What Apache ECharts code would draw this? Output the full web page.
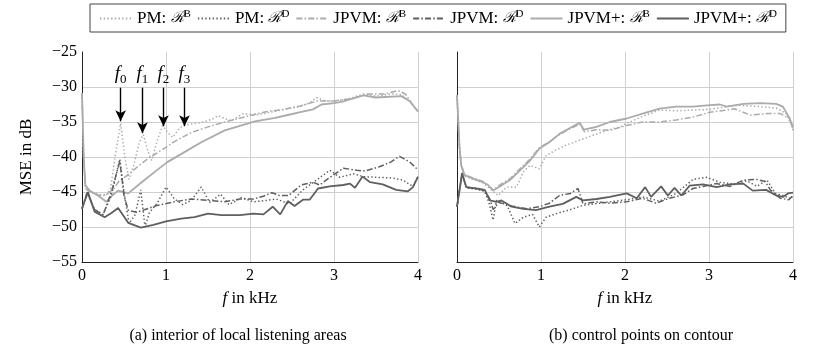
<!DOCTYPE html>
<html>
<head>
<meta charset="utf-8">
<script src="https://cdn.jsdelivr.net/npm/echarts@6.0.0/dist/echarts.min.js"></script>
<style>
  html, body { margin: 0; padding: 0; background: #fff; }
  #main { width: 817px; height: 361px; }
</style>
</head>
<body>
<div id="main"></div>
<script>
// frequency f in kHz, MSE in dB
// (a) interior of local listening areas
var leftPmB = [[0,-30.9],[0.02,-40],[0.04,-44.5],[0.1,-45],[0.2,-45.3],[0.28,-45.6],[0.34,-44.5],[0.4,-39.5],[0.46,-35.2],[0.51,-40],[0.56,-43.2],[0.62,-41],[0.68,-38],[0.73,-36.8],[0.78,-39],[0.83,-40.5],[0.9,-37.5],[0.96,-35.5],[1.02,-36.5],[1.08,-37.2],[1.14,-36.2],[1.2,-35.5],[1.3,-35.3],[1.45,-35],[1.55,-34.6],[1.62,-34.1],[1.7,-34.5],[1.78,-34.8],[1.92,-33.8],[2.06,-34],[2.2,-33.7],[2.4,-33.2],[2.6,-32.8],[2.72,-32.2],[2.79,-31.5],[2.9,-32],[3.0,-32],[3.2,-31.6],[3.35,-31.0],[3.5,-31.3],[3.7,-31],[3.8,-31.1],[3.9,-32],[4.0,-33.5]];
var leftPmD = [[0,-47.4],[0.06,-45.1],[0.15,-47.5],[0.25,-48.2],[0.35,-45.5],[0.45,-40.3],[0.5,-45],[0.56,-49.5],[0.63,-48.3],[0.7,-44.7],[0.75,-50],[0.8,-48],[0.9,-46.5],[1.0,-44.3],[1.1,-46],[1.2,-46.8],[1.3,-46.2],[1.42,-44.3],[1.52,-46.5],[1.65,-45.3],[1.75,-46.8],[1.9,-45.8],[2.04,-46.4],[2.2,-46.2],[2.31,-46.0],[2.47,-46.7],[2.63,-44.7],[2.79,-43.3],[2.95,-41.9],[3.07,-42.9],[3.23,-42.4],[3.35,-42.8],[3.5,-42.9],[3.7,-43.0],[3.82,-43.3],[3.94,-44.2],[4.0,-42.8]];
var leftJpvmB = [[0,-30.9],[0.02,-40],[0.04,-44.5],[0.1,-45],[0.2,-45.5],[0.3,-45.3],[0.38,-44.5],[0.45,-43.3],[0.52,-42.8],[0.61,-41.9],[0.7,-41],[0.79,-40.2],[0.95,-39.0],[1.1,-37.8],[1.3,-36.5],[1.5,-35.7],[1.7,-35.0],[1.9,-34.4],[2.06,-33.9],[2.2,-33.5],[2.4,-33.2],[2.6,-32.7],[2.8,-32.0],[3.0,-32.0],[3.2,-31.7],[3.4,-31.0],[3.6,-31.0],[3.76,-30.5],[3.85,-31],[3.95,-32.8],[4.0,-33.5]];
var leftJpvmD = [[0,-47.4],[0.06,-45.1],[0.15,-47.5],[0.25,-48.3],[0.35,-45],[0.45,-40.6],[0.5,-45.5],[0.55,-47.6],[0.65,-47.9],[0.75,-47.5],[0.9,-46.9],[1.1,-46.4],[1.3,-46.0],[1.5,-46.2],[1.7,-46.4],[1.88,-46.0],[2.04,-46.0],[2.16,-45.6],[2.26,-45.1],[2.35,-45.5],[2.46,-45.5],[2.61,-44.0],[2.75,-43.6],[2.83,-44.0],[2.93,-43.1],[3.11,-41.6],[3.27,-41.9],[3.37,-42.0],[3.54,-41.4],[3.68,-40.7],[3.78,-39.9],[3.9,-40.7],[3.98,-41.6],[4.0,-41.4]];
var leftPlusB = [[0,-30.9],[0.02,-40],[0.04,-44.0],[0.09,-44.8],[0.19,-45.5],[0.29,-46.4],[0.36,-45.5],[0.43,-44.8],[0.55,-45.2],[0.71,-43.6],[0.9,-41.8],[1.02,-40.7],[1.22,-39.3],[1.42,-37.9],[1.7,-36.2],[2.06,-34.9],[2.3,-34.4],[2.45,-34.0],[2.6,-33.6],[2.75,-33.2],[2.85,-32.5],[3.0,-32.3],[3.1,-32.1],[3.35,-31.2],[3.5,-31.5],[3.8,-31.3],[3.9,-32],[4.0,-33.5]];
var leftPlusD = [[0,-47.4],[0.07,-45.0],[0.15,-47.8],[0.27,-48.6],[0.35,-48.0],[0.43,-47.3],[0.55,-49.4],[0.7,-50.1],[0.85,-49.7],[1.0,-49.2],[1.18,-48.8],[1.34,-48.6],[1.5,-48.1],[1.66,-48.3],[1.88,-48.3],[2.04,-48.1],[2.16,-48.2],[2.27,-47.1],[2.36,-48.2],[2.45,-46.3],[2.53,-47.0],[2.63,-46.1],[2.71,-46.1],[2.81,-44.5],[2.95,-44.2],[3.11,-44.0],[3.19,-43.8],[3.25,-44.4],[3.34,-42.8],[3.43,-43.6],[3.58,-43.9],[3.74,-44.7],[3.88,-44.9],[3.94,-44.3],[4.0,-42.8]];

// (b) control points on contour
var rightPmB = [[0,-31.2],[0.03,-38.6],[0.05,-41.2],[0.09,-42.7],[0.19,-43.2],[0.31,-43.7],[0.43,-44.9],[0.49,-45.5],[0.59,-44.3],[0.71,-44.3],[0.79,-42.1],[0.87,-41.2],[0.94,-41.5],[0.98,-41.7],[1.06,-39.8],[1.18,-39.0],[1.3,-38.3],[1.46,-37.6],[1.62,-36.9],[1.78,-36.2],[1.94,-35.7],[2.02,-35.2],[2.21,-34.2],[2.41,-33.3],[2.61,-33.4],[2.81,-33.3],[3.01,-33.2],[3.33,-32.6],[3.61,-32.8],[3.8,-33],[3.92,-33.8],[4.0,-36]];
var rightPmD = [[0,-47.1],[0.06,-42.5],[0.11,-44.4],[0.23,-44.6],[0.33,-44.9],[0.38,-46.5],[0.43,-49.0],[0.47,-46.2],[0.53,-46.4],[0.6,-47.0],[0.69,-49.5],[0.79,-48.6],[0.9,-48.2],[0.98,-50.0],[1.06,-48.6],[1.18,-48.1],[1.38,-47.4],[1.5,-46.9],[1.7,-46.6],[1.82,-46.4],[2.02,-46.1],[2.21,-45.7],[2.41,-46.3],[2.61,-45.2],[2.81,-43.2],[2.97,-42.9],[3.13,-43.6],[3.29,-43.9],[3.45,-43.4],[3.57,-44.2],[3.69,-43.3],[3.79,-45.2],[3.88,-45.5],[3.96,-45.9],[4.0,-45.7]];
var rightJpvmB = [[0,-31.2],[0.03,-38.6],[0.05,-41.2],[0.09,-42.5],[0.19,-43.0],[0.31,-43.5],[0.43,-44.7],[0.51,-44.0],[0.63,-43.1],[0.75,-41.7],[0.87,-40.3],[0.98,-38.7],[1.1,-37.8],[1.22,-36.8],[1.34,-36.0],[1.46,-35.3],[1.52,-36.4],[1.66,-36.1],[1.82,-36.2],[2.02,-35.5],[2.21,-35.0],[2.41,-35.0],[2.61,-34.7],[2.81,-34.3],[3.01,-33.6],[3.21,-33.3],[3.3,-33.1],[3.49,-34.0],[3.69,-33.8],[3.85,-33.8],[3.96,-34.5],[4.0,-36.2]];
var rightJpvmD = [[0,-47.1],[0.06,-42.4],[0.11,-44.3],[0.23,-44.5],[0.33,-44.8],[0.39,-46.0],[0.43,-47.5],[0.5,-46.5],[0.65,-47.0],[0.83,-47.4],[0.98,-47.1],[1.1,-46.6],[1.22,-45.5],[1.35,-45.2],[1.44,-44.5],[1.5,-46.7],[1.66,-46.4],[1.82,-46.6],[2.02,-46.4],[2.21,-45.9],[2.37,-46.6],[2.53,-45.9],[2.69,-45.4],[2.81,-44.5],[2.93,-44.2],[3.09,-43.8],[3.25,-44.2],[3.41,-43.3],[3.57,-43.2],[3.67,-43.5],[3.73,-44.7],[3.85,-45.9],[3.95,-46.1],[4.0,-45.5]];
var rightPlusB = [[0,-31.2],[0.03,-38.6],[0.05,-41.2],[0.09,-42.6],[0.19,-43.1],[0.31,-43.6],[0.37,-44.0],[0.43,-44.8],[0.51,-44.2],[0.63,-43.3],[0.75,-41.9],[0.87,-40.5],[0.98,-38.8],[1.1,-37.9],[1.22,-36.7],[1.34,-35.9],[1.46,-35.1],[1.51,-36.1],[1.66,-35.7],[1.82,-35.0],[2.02,-34.5],[2.21,-33.8],[2.41,-33.1],[2.61,-32.8],[2.81,-32.8],[3.01,-32.6],[3.13,-32.5],[3.21,-32.8],[3.41,-32.4],[3.61,-32.3],[3.8,-32.4],[3.88,-32.8],[3.96,-34.5],[4.0,-35.7]];
var rightPlusD = [[0,-47.1],[0.06,-42.3],[0.11,-44.3],[0.23,-44.5],[0.33,-44.7],[0.39,-46.2],[0.47,-46.4],[0.53,-46.2],[0.65,-47.1],[0.79,-47.4],[0.94,-47.6],[1.1,-47.1],[1.26,-46.7],[1.42,-45.7],[1.5,-46.2],[1.66,-46.0],[1.82,-45.7],[2.02,-45.2],[2.14,-45.9],[2.24,-44.3],[2.31,-45.7],[2.43,-44.2],[2.51,-45.5],[2.59,-44.4],[2.67,-45.5],[2.77,-44.1],[2.93,-43.9],[3.09,-44.3],[3.25,-43.9],[3.41,-43.8],[3.52,-44.8],[3.68,-44.7],[3.8,-45.5],[3.88,-45.7],[3.94,-45.2],[4.0,-45.1]];

// f0..f3 markers in panel (a)
var markFreq = [0.46, 0.72, 0.97, 1.22];
var markTip = [-34.9, -36.6, -35.6, -35.6];
var markTop = -30.1;

var legendNames = ['PM|B', 'PM|D', 'JPVM|B', 'JPVM|D', 'JPVM+|B', 'JPVM+|D'];
var captions = ['(a) interior of local listening areas', '(b) control points on contour'];

var FONT = '"Liberation Serif", "DejaVu Serif", serif';
var LIGHT = '#ababab';
var DARK = '#5f5f5f';
var DOT = [1.4, 2.3];
var DASHDOT = [6, 2.2, 1.5, 2.2];

var styles = {
  'PM|B':    { color: LIGHT, type: DOT, width: 1.5 },
  'PM|D':    { color: DARK,  type: DOT, width: 1.5 },
  'JPVM|B':  { color: LIGHT, type: DASHDOT, width: 1.5 },
  'JPVM|D':  { color: DARK,  type: DASHDOT, width: 1.5 },
  'JPVM+|B': { color: LIGHT, type: 'solid', width: 1.8 },
  'JPVM+|D': { color: DARK,  type: 'solid', width: 1.8 }
};

function line(name, data, idx) {
  var s = styles[name];
  return {
    name: name, type: 'line', data: data,
    xAxisIndex: idx, yAxisIndex: idx,
    showSymbol: false, symbol: 'none', animation: false,
    color: s.color,
    itemStyle: { color: s.color },
    lineStyle: { color: s.color, type: s.type, width: s.width },
    z: name.indexOf('|D') > 0 ? 3 : 2
  };
}

var series = [
  line('PM|B', leftPmB, 0), line('PM|D', leftPmD, 0),
  line('JPVM|B', leftJpvmB, 0), line('JPVM|D', leftJpvmD, 0),
  line('JPVM+|B', leftPlusB, 0), line('JPVM+|D', leftPlusD, 0),
  line('PM|B', rightPmB, 1), line('PM|D', rightPmD, 1),
  line('JPVM|B', rightJpvmB, 1), line('JPVM|D', rightJpvmD, 1),
  line('JPVM+|B', rightPlusB, 1), line('JPVM+|D', rightPlusD, 1)
];

series[0].markLine = {
  silent: true,
  animation: false,
  symbol: ['none', 'arrow'],
  symbolSize: [8, 11],
  lineStyle: { color: '#000', width: 1.4, type: 'solid' },
  label: {
    show: true, position: 'start', distance: 2,
    formatter: function (p) { return '{f|f}{s|' + p.dataIndex + '}'; },
    rich: {
      f: { fontFamily: FONT, fontStyle: 'italic', fontSize: 19, color: '#000', lineHeight: 21, verticalAlign: 'top' },
      s: { fontFamily: FONT, fontSize: 13, color: '#000', verticalAlign: 'bottom', lineHeight: 21 }
    }
  },
  data: markFreq.map(function (f, i) {
    return [{ coord: [f, markTop] }, { coord: [f, markTip[i]] }];
  })
};

function xAxis(idx) {
  return {
    type: 'value', gridIndex: idx, min: 0, max: 4, interval: 1,
    name: '{i|f} in kHz', nameLocation: 'middle', nameGap: 28,
    nameTextStyle: { fontFamily: FONT, fontSize: 17, color: '#000',
      rich: { i: { fontFamily: FONT, fontStyle: 'italic', fontSize: 17, color: '#000' } } },
    axisLine: { show: true, onZero: false, lineStyle: { color: '#222', width: 1 } },
    axisTick: { show: false },
    axisLabel: { fontFamily: FONT, fontSize: 16, color: '#000', margin: 6 },
    splitLine: { show: true, lineStyle: { color: '#d0d0d0', width: 1 } }
  };
}

function yAxis(idx) {
  return {
    type: 'value', gridIndex: idx, min: -55, max: -25, interval: 5,
    name: idx === 0 ? 'MSE in dB' : '', nameLocation: 'middle', nameGap: 47,
    nameTextStyle: { fontFamily: FONT, fontSize: 17, color: '#000' },
    axisLine: { show: true, onZero: false, lineStyle: { color: '#222', width: 1 } },
    axisTick: { show: false },
    axisLabel: {
      show: idx === 0, fontFamily: FONT, fontSize: 16, color: '#000', margin: 5,
      formatter: function (v) { return String(v).replace('-', '\u2212'); }
    },
    splitLine: { show: true, showMaxLine: false, lineStyle: { color: '#d0d0d0', width: 1 } }
  };
}

var chart = echarts.init(document.getElementById('main'));
chart.setOption({
  animation: false,
  backgroundColor: '#fff',
  grid: [
    { left: 82, top: 52, width: 336, height: 210 },
    { left: 457, top: 52, width: 336, height: 210 }
  ],
  legend: {
    show: true,
    data: legendNames, left: 90, top: 4,
    padding: [5, 9], itemGap: 6, itemWidth: 32, itemHeight: 10,
    borderColor: '#444', borderWidth: 1,
    itemStyle: { opacity: 0 },
    formatter: function (n) {
      var p = n.split('|');
      return '{n|' + p[0] + ': }{r|\u211B}{s|' + p[1] + '}';
    },
    textStyle: {
      fontFamily: FONT, fontSize: 17, color: '#000',
      rich: {
        n: { fontFamily: FONT, fontSize: 17, color: '#000', lineHeight: 19 },
        r: { fontFamily: '"DejaVu Serif", serif', fontStyle: 'italic', fontSize: 15, color: '#000', lineHeight: 19 },
        s: { fontFamily: FONT, fontSize: 11, color: '#000', verticalAlign: 'top', lineHeight: 19 }
      }
    }
  },
  title: captions.map(function (c, i) {
    return { text: c, left: i === 0 ? 233 : 636, top: 323, textAlign: 'center',
      textStyle: { fontFamily: FONT, fontSize: 16, fontWeight: 'normal', color: '#000' } };
  }),
  xAxis: [xAxis(0), xAxis(1)],
  yAxis: [yAxis(0), yAxis(1)],
  series: series
});
</script>
</body>
</html>
